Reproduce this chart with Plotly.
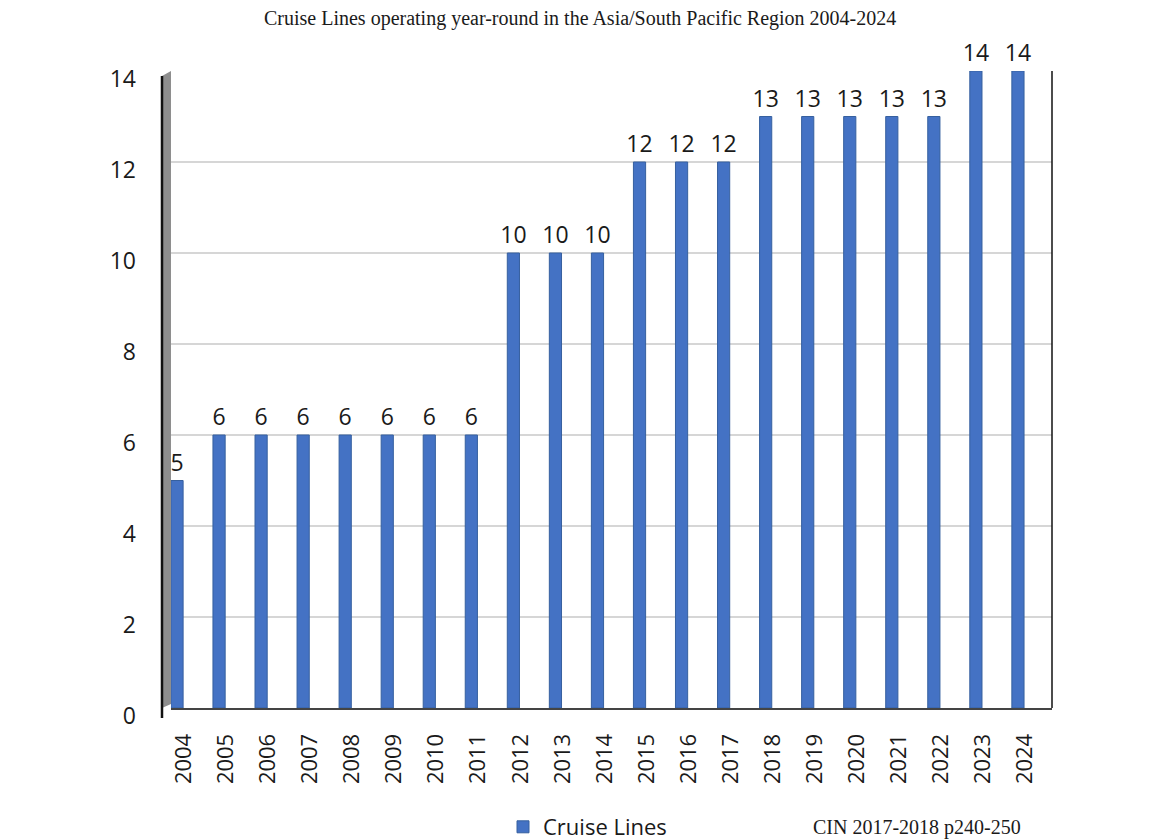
import plotly.graph_objects as go

years = [str(y) for y in range(2004, 2025)]
cruise_lines = [5, 6, 6, 6, 6, 6, 6, 6, 10, 10, 10, 12, 12, 12, 13, 13, 13, 13, 13, 14, 14]

title_text = "Cruise Lines operating year-round in the Asia/South Pacific Region 2004-2024"
source_text = "CIN 2017-2018 p240-250"
series_name = "Cruise Lines"

W, H = 1167, 840
L, R, T, B = 171, 115, 71, 132
plot_w = W - L - R
plot_h = H - T - B

def px_x(px):
    return (px - L) / plot_w

def px_y(py):
    return (H - B - py) / plot_h

fig = go.Figure()
fig.add_trace(go.Bar(
    x=years,
    y=cruise_lines,
    name=series_name,
    width=0.29,
    marker=dict(color="#4472C4", line=dict(color="#36609f", width=1)),
    text=[str(v) for v in cruise_lines],
    textposition="outside",
    constraintext="none",
    textfont=dict(family="Open Sans", size=23, color="#1a1a1a"),
    cliponaxis=False,
))

# side wall on the left and frame lines
shapes = [
    dict(type="path", xref="paper", yref="paper",
         path=f"M {px_x(162)} {px_y(708)} L {px_x(171)} {px_y(704)} L {px_x(171)} {px_y(71)} L {px_x(162)} {px_y(76)} Z",
         fillcolor="#8e8e8e", line=dict(width=0), layer="above"),
    dict(type="line", xref="paper", yref="paper",
         x0=px_x(162), x1=px_x(162), y0=px_y(718), y1=px_y(76),
         line=dict(color="#111111", width=2.5), layer="above"),
    dict(type="line", xref="paper", yref="paper",
         x0=1, x1=1, y0=0, y1=1,
         line=dict(color="#111111", width=1.5), layer="above"),
]

fig.update_layout(
    width=W, height=H,
    margin=dict(l=L, r=R, t=T, b=B, pad=0, autoexpand=False),
    paper_bgcolor="white", plot_bgcolor="white",
    showlegend=True,
    legend=dict(orientation="h", xref="container", yref="container",
                x=503 / W, y=1 - 827 / H, xanchor="left", yanchor="middle",
                font=dict(family="Open Sans", size=22, color="#1a1a1a"),
                itemwidth=30, bgcolor="rgba(0,0,0,0)"),
    shapes=shapes,
    annotations=[
        dict(text=title_text, xref="paper", yref="paper", x=px_x(580), y=px_y(18),
             xanchor="center", yanchor="middle", showarrow=False,
             font=dict(family="Liberation Serif", size=20, color="#1a1a1a")),
        dict(text=source_text, xref="paper", yref="paper", x=px_x(811), y=px_y(828),
             xanchor="left", yanchor="middle", showarrow=False,
             font=dict(family="Liberation Serif", size=20, color="#1a1a1a")),
    ],
    bargap=0.7,
)

fig.update_xaxes(
    type="category",
    range=[-0.143, 20.81],
    tickangle=-90,
    tickfont=dict(family="Open Sans", size=22, color="#1a1a1a"),
    showgrid=False,
    showline=True, linecolor="#444444", linewidth=2,
    ticks="", ticklabelstandoff=15, ticklabelshift=7,
    automargin=False,
)
fig.update_yaxes(
    range=[0, 14],
    dtick=2,
    tickfont=dict(family="Open Sans", size=23, color="#1a1a1a"),
    showgrid=True, gridcolor="#d6d6d6", gridwidth=1.5,
    zeroline=False, showline=False,
    ticks="", ticklabelstandoff=34, ticklabelshift=8,
    automargin=False,
)

fig.write_html("out.html")
